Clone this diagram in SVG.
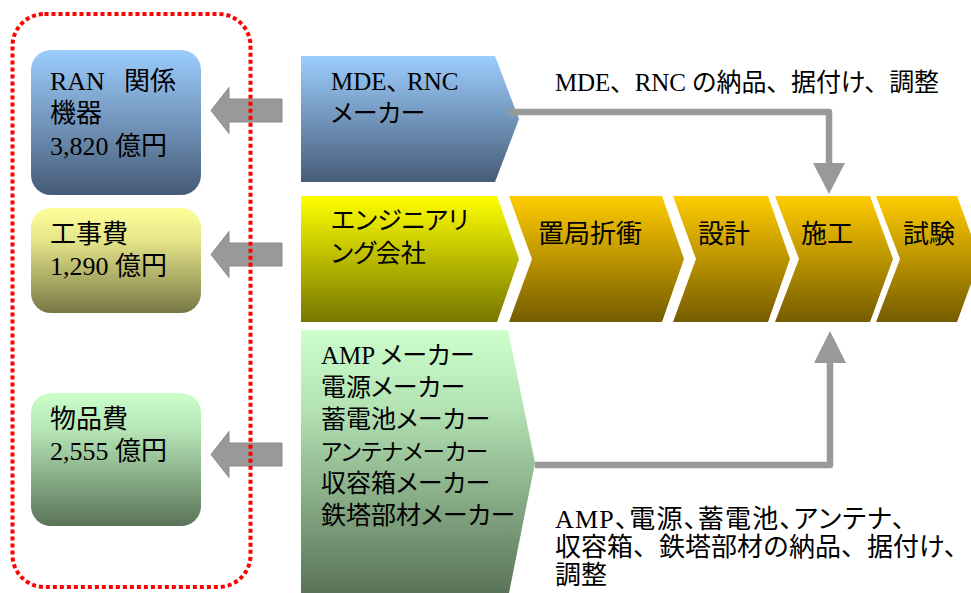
<svg xmlns="http://www.w3.org/2000/svg" width="971" height="593" viewBox="0 0 971 593">
<style>
text{font-family:"Liberation Serif","Noto Sans CJK JP",sans-serif;fill:#000}
.b26{font-size:26px}
.p25{font-size:25px;font-feature-settings:"palt"}
.c26{font-size:26px}
.garrow{fill:#999999;stroke:#8c8c8c;stroke-width:1}
.conn{fill:none;stroke:#999999;stroke-width:6.5;stroke-linejoin:round}
.head{fill:#999999}
</style>
<defs>
<linearGradient id="gBlue" x1="0" y1="0" x2="0" y2="1"><stop offset="0" stop-color="#9BCDFD"/><stop offset="0.35" stop-color="#7FA6CF"/><stop offset="1" stop-color="#465B77"/></linearGradient>
<linearGradient id="gYel" x1="0" y1="0" x2="0" y2="1"><stop offset="0" stop-color="#FFFF99"/><stop offset="0.3" stop-color="#E6E68A"/><stop offset="1" stop-color="#787846"/></linearGradient>
<linearGradient id="gGrn" x1="0" y1="0" x2="0" y2="1"><stop offset="0" stop-color="#CCFFCC"/><stop offset="0.3" stop-color="#B3E2B3"/><stop offset="1" stop-color="#5A7358"/></linearGradient>
<linearGradient id="gEng" x1="0" y1="0" x2="0" y2="1"><stop offset="0" stop-color="#FFFF00"/><stop offset="0.3" stop-color="#D6D600"/><stop offset="1" stop-color="#767600"/></linearGradient>
<linearGradient id="gChev" x1="0" y1="0" x2="0" y2="1"><stop offset="0" stop-color="#FFCC00"/><stop offset="0.3" stop-color="#D6AA00"/><stop offset="1" stop-color="#765C00"/></linearGradient>
<path id="larrow" d="M0,0 L18,-23 L18,-11.5 L71,-11.5 L71,11.5 L18,11.5 L18,23 Z"/>
</defs>
<rect width="971" height="593" fill="#ffffff"/>

<g id="box-ran">
<rect x="31" y="50" width="170" height="145" rx="20" fill="url(#gBlue)"/>
<text class="b26" x="50" y="90">RAN<tspan x="124">関係</tspan></text>
<text class="b26" x="50" y="122">機器</text>
<text class="b26" x="50" y="155">3,820 億円</text>
</g>
<g id="box-koji">
<rect x="31" y="208" width="170" height="105" rx="20" fill="url(#gYel)"/>
<text class="b26" x="50" y="243">工事費</text>
<text class="b26" x="50" y="275">1,290 億円</text>
</g>
<g id="box-buppin">
<rect x="31" y="393" width="170" height="133" rx="20" fill="url(#gGrn)"/>
<text class="b26" x="50" y="428">物品費</text>
<text class="b26" x="50" y="460">2,555 億円</text>
</g>

<g id="left-arrows">
<use href="#larrow" class="garrow" transform="translate(211,110.5)"/>
<use href="#larrow" class="garrow" transform="translate(211,254.5)"/>
<use href="#larrow" class="garrow" transform="translate(211,454.5)"/>
</g>

<g id="group-border">
<rect x="12.5" y="14" width="238" height="573" rx="32" fill="none" stroke="#FF0000" stroke-width="4" stroke-dasharray="4 3"/>
</g>

<g id="maker-mde">
<path d="M301,56 L495,56 L519,119 L495,182 L301,182 Z" fill="url(#gBlue)"/>
<text class="p25" x="331" y="89.5">MDE、<tspan dx="8">RNC</tspan></text>
<text class="p25" x="331" y="122">メーカー</text>
</g>

<g id="eng">
<path d="M301,196 L497,196 L519,259 L497,322 L301,322 Z" fill="url(#gEng)"/>
<text class="p25" x="331" y="229">エンジニアリ</text>
<text class="p25" x="331" y="262">ング会社</text>
</g>
<g id="step-1">
<path d="M509,196 L662,196 L684,259 L662,322 L509,322 L532,259 Z" fill="url(#gChev)"/>
<text class="c26" x="538" y="243">置局折衝</text>
</g>
<g id="step-2">
<path d="M673,196 L768,196 L790,259 L768,322 L673,322 L696,259 Z" fill="url(#gChev)"/>
<text class="c26" x="698" y="243">設計</text>
</g>
<g id="step-3">
<path d="M775,196 L870,196 L893,259 L870,322 L775,322 L799,259 Z" fill="url(#gChev)"/>
<text class="c26" x="801" y="243">施工</text>
</g>
<g id="step-4">
<path d="M876,196 L957,196 L980,259 L957,322 L876,322 L900,259 Z" fill="url(#gChev)"/>
<text class="c26" x="903" y="243">試験</text>
</g>

<g id="maker-parts">
<path d="M301,330 L508,330 L535,463 L509,593 L301,593 Z" fill="url(#gGrn)"/>
<text class="p25" x="321" y="364">AMP メーカー</text>
<text class="p25" x="321" y="396">電源メーカー</text>
<text class="p25" x="321" y="428">蓄電池メーカー</text>
<text class="p25" x="321" y="460" style="font-size:23px" textLength="167" lengthAdjust="spacingAndGlyphs">アンテナメーカー</text>
<text class="p25" x="321" y="492">収容箱メーカー</text>
<text class="p25" x="321" y="524">鉄塔部材メーカー</text>
</g>

<g id="connectors">
<path class="conn" d="M509,112 L829,112 L829,164"/>
<polygon class="head" points="813,163 845,163 829,194"/>
<path class="conn" d="M535,465 L830,465 L830,362"/>
<polygon class="head" points="814,363 846,363 830,331"/>
</g>

<g id="labels">
<text style="font-size:25px" x="555" y="90.5" textLength="384">MDE、RNC の納品、据付け、調整</text>
<text class="c26" style="font-feature-settings:'palt'" x="555" y="528" textLength="350">AMP、電源、蓄電池、アンテナ、</text>
<text class="c26" x="555" y="556">収容箱、鉄塔部材の納品、据付け、</text>
<text class="c26" x="555" y="584">調整</text>
</g>
</svg>
